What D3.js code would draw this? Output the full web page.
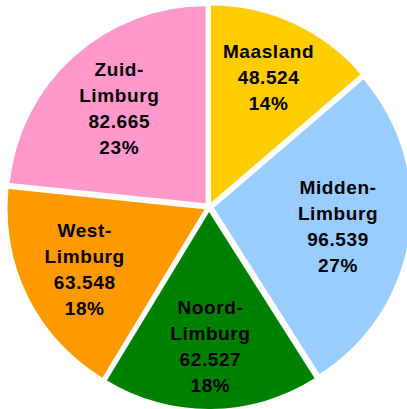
<!DOCTYPE html>
<html>
<head>
<meta charset="utf-8">
<script src="https://cdn.jsdelivr.net/npm/d3@7"></script>
<style>
  body { margin: 0; background: #fff; }
  text { font-family: "Liberation Sans", Arial, sans-serif; font-weight: bold; }
</style>
</head>
<body>
<div id="chart"></div>
<script>
const regions = ['Maasland', 'Midden-Limburg', 'Noord-Limburg', 'West-Limburg', 'Zuid-Limburg']
const labelLines = [['Maasland'], ['Midden-', 'Limburg'], ['Noord-', 'Limburg'], ['West-', 'Limburg'], ['Zuid-', 'Limburg']]
const amounts = [48.524, 96.539, 62.527, 63.548, 82.665]
const amountLabels = ['48.524', '96.539', '62.527', '63.548', '82.665']
const colors = ['#FFCC00', '#99CCFF', '#008000', '#FF9900', '#FF99CC']

const width = 407
const height = 409
const cx = 209
const cy = 207
const radius = 197
const explode = 5

const svg = d3
  .select('#chart')
  .append('svg')
  .attr('width', width)
  .attr('height', height)

const data = regions.map((r, i) => ({ region: r, value: amounts[i], lines: labelLines[i], label: amountLabels[i] }))
const total = d3.sum(amounts)

const pie = d3.pie().sort(null).value(d => d.value)
const arc = d3.arc().innerRadius(0).outerRadius(radius)
const colorScale = d3.scaleOrdinal().domain(regions).range(colors)

// narrow slices push their label further out, like Excel's best fit
const labelRadius = d => 150 - 0.25 * (d.endAngle - d.startAngle) * 180 / Math.PI

const slices = svg
  .append('g')
  .attr('transform', `translate(${cx},${cy})`)
  .selectAll('g')
  .data(pie(data))
  .enter()
  .append('g')
  .attr('transform', d => {
    const a = (d.startAngle + d.endAngle) / 2
    return `translate(${explode * Math.sin(a)},${-explode * Math.cos(a)})`
  })

slices
  .append('path')
  .attr('d', arc)
  .attr('fill', d => colorScale(d.data.region))

slices.each(function(d) {
  const lines = d.data.lines.concat([d.data.label, Math.round(d.data.value / total * 100) + '%'])
  const r = labelRadius(d)
  const [x, y] = d3.arc().innerRadius(r).outerRadius(r).centroid(d)
  const step = 26
  const t = d3.select(this)
    .append('text')
    .attr('text-anchor', 'middle')
    .attr('font-size', 19)
    .attr('letter-spacing', 0.6)
    .attr('fill', '#000')
  lines.forEach((l, i) => {
    t.append('tspan')
      .attr('x', x)
      .attr('y', y + (i - (lines.length - 1) / 2) * step + 7)
      .text(l)
  })
})
</script>
</body>
</html>
